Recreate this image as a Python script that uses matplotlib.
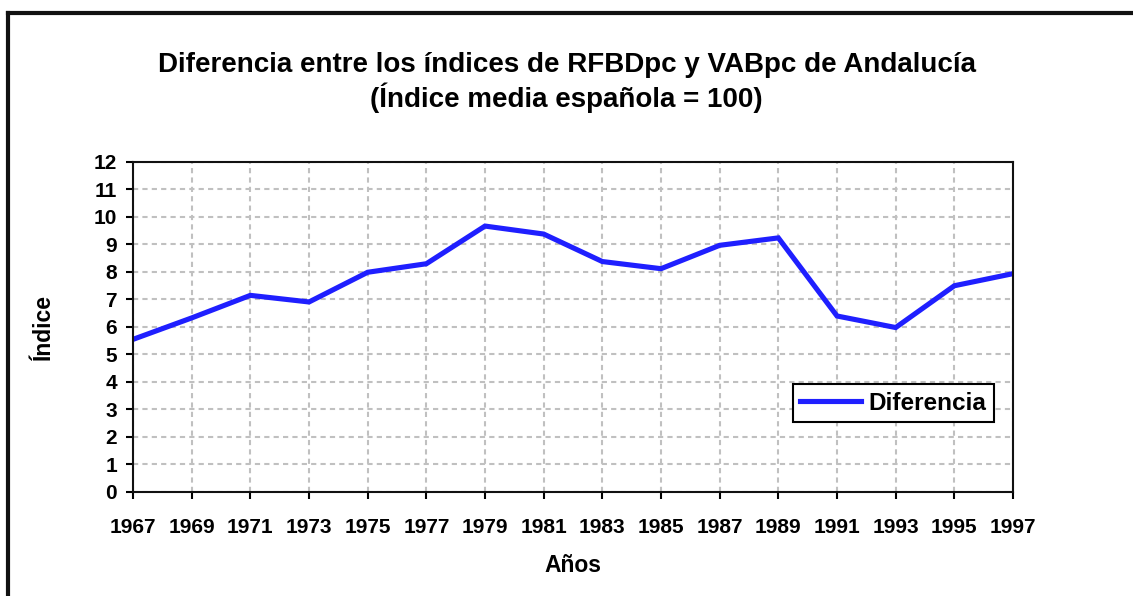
import numpy as np
import matplotlib.pyplot as plt
from matplotlib.lines import Line2D

# Datos (años impares)
anios = [1967, 1969, 1971, 1973, 1975, 1977, 1979, 1981,
         1983, 1985, 1987, 1989, 1991, 1993, 1995, 1997]
diferencia = [5.55, 6.33, 7.15, 6.91, 7.99, 8.30, 9.67, 9.38,
              8.38, 8.12, 8.97, 9.24, 6.40, 5.98, 7.50, 7.94]
yticks = list(range(0, 13))

plt.rcParams['font.family'] = ['Liberation Sans', 'DejaVu Sans']
plt.rcParams['font.weight'] = 'bold'

fig = plt.figure(figsize=(11.33, 5.96), dpi=100)
ax = fig.add_axes([0.1174, 0.1745, 0.7767, 0.5537])

ax.plot(anios, diferencia, color='#1f1fff', linewidth=3.7, label='Diferencia',
        solid_joinstyle='miter')

ax.set_xlim(1967, 1997)
ax.set_ylim(0, 12)
ax.set_xticks(anios)
ax.set_yticks(yticks)
ax.tick_params(axis='both', direction='out', length=5, width=1.5,
               labelsize=15)
ax.tick_params(axis='x', pad=14)
ax.tick_params(axis='y', pad=6.5)
for lab in ax.get_xticklabels() + ax.get_yticklabels():
    lab.set_fontweight('bold')

ax.grid(True, color='#c0c0c0', linestyle=(0, (2.5, 2)), linewidth=1.5)
ax.set_axisbelow(True)
for s in ax.spines.values():
    s.set_linewidth(1.5)
    s.set_color('#111111')

ax.set_xlabel('Años', fontsize=16.5, fontweight='bold', labelpad=12)
ax.set_ylabel('Índice', fontsize=16.5, fontweight='bold', labelpad=28)

leg = ax.legend(loc='lower left', bbox_to_anchor=(0.750, 0.212),
                borderaxespad=0, fancybox=False, framealpha=1,
                edgecolor='black', handlelength=2.5, handletextpad=0.3,
                borderpad=0.3, prop={'size': 17.5, 'weight': 'bold'})
leg.get_frame().set_linewidth(1.5)

fig.text(0.5, 1 - 65 / 596, 'Diferencia entre los índices de RFBDpc y VABpc de Andalucía',
         ha='center', va='center', fontsize=20, fontweight='bold')
fig.text(0.5, 1 - 98 / 596, '(Índice media española = 100)',
         ha='center', va='center', fontsize=20, fontweight='bold')

# Marco del gráfico (solo visibles borde izquierdo y superior)
fx = 8 / 1133
fy = 1 - 13 / 596
fig.add_artist(Line2D([fx, fx], [0, fy], transform=fig.transFigure,
                      color='#111111', linewidth=3))
fig.add_artist(Line2D([fx, 1], [fy, fy], transform=fig.transFigure,
                      color='#111111', linewidth=3))

fig.savefig('out.png', dpi=100)
